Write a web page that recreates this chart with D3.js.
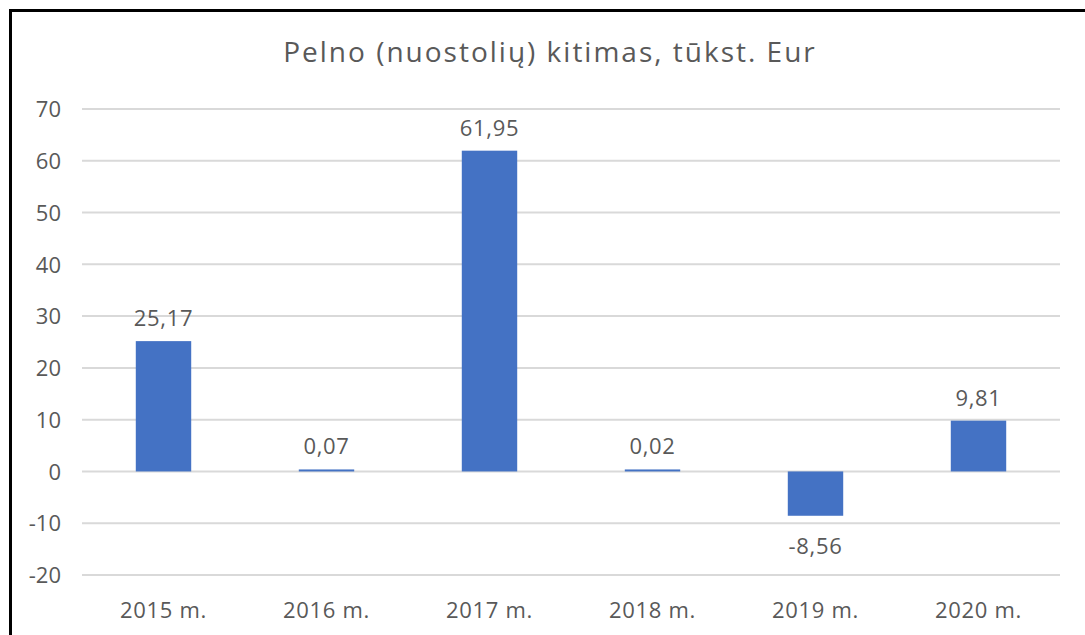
<!DOCTYPE html>
<html>
<head>
<meta charset="utf-8">
<script src="https://cdn.jsdelivr.net/npm/d3@7"></script>
<style>
  body { margin: 0; background: #fff; }
  svg text { font-family: "Open Sans", sans-serif; fill: #595959; }
</style>
</head>
<body>
<svg id="chart" width="1085" height="635"></svg>
<script>
var title = "Pelno (nuostolių) kitimas, tūkst. Eur";
var years = ["2015 m.", "2016 m.", "2017 m.", "2018 m.", "2019 m.", "2020 m."];
var values = [25.17, 0.07, 61.95, 0.02, -8.56, 9.81];
var yTicks = [-20, -10, 0, 10, 20, 30, 40, 50, 60, 70];

var svg = d3.select("#chart");

// frame around the chart (image is cropped on right/bottom)
svg.append("path").attr("d", "M10.5,1000 V10.5 H1100").attr("fill", "none").attr("stroke", "#000").attr("stroke-width", "3");

var x = d3.scaleBand().domain(years).range([82, 1060]).paddingInner(0.66).paddingOuter(0.33);
var y = d3.scaleLinear().domain([-20, 70]).range([575, 109]);

function fmtLabel(d) {
  return d3.format(".2f")(d).replace(".", ",").replace("\u2212", "-");
}

// gridlines
svg.append("g").selectAll("line").data(yTicks).enter().append("line")
  .attr("x1", 82).attr("x2", 1060)
  .attr("y1", function (d) { return y(d); }).attr("y2", function (d) { return y(d); })
  .attr("stroke", "#d9d9d9").attr("stroke-width", "2");

// y labels
var yAxis = svg.append("g").attr("transform", "translate(61,0)")
  .call(d3.axisLeft(y).tickValues(yTicks).tickSize(0).tickPadding(0)
    .tickFormat(function (d) { return String(d); }));
yAxis.select(".domain").remove();
yAxis.selectAll("text").attr("font-size", "22px").attr("font-family", null).attr("dy", "0.35em");

// x labels
var xAxis = svg.append("g").attr("transform", "translate(0,602)")
  .call(d3.axisBottom(x).tickSize(0).tickPadding(0));
xAxis.select(".domain").remove();
xAxis.selectAll("text").attr("font-size", "22px").attr("font-family", null).attr("dy", "0.72em")
  .attr("letter-spacing", "0.7px");

// bars
svg.append("g").selectAll("rect").data(values).enter().append("rect")
  .attr("fill", "#4472c4")
  .attr("x", function (d, i) { return x(years[i]); })
  .attr("width", x.bandwidth())
  .attr("y", function (d) { return Math.min(y(d), y(0) - (d >= 0 ? 2 : 0)); })
  .attr("height", function (d) { return Math.max(Math.abs(y(d) - y(0)), 2); });

// data labels
svg.append("g").selectAll("text").data(values).enter().append("text")
  .attr("text-anchor", "middle").attr("font-size", "22px").attr("letter-spacing", "0.7px")
  .attr("x", function (d, i) { return x(years[i]) + x.bandwidth() / 2; })
  .attr("y", function (d) { return d >= 0 ? Math.min(y(d), y(0) - 2) - 15 : y(d) + 38; })
  .text(fmtLabel);

// title
svg.append("text").attr("x", 550).attr("y", 62).attr("text-anchor", "middle")
  .attr("font-size", "28px").attr("letter-spacing", "2px").text(title);
</script>
</body>
</html>
